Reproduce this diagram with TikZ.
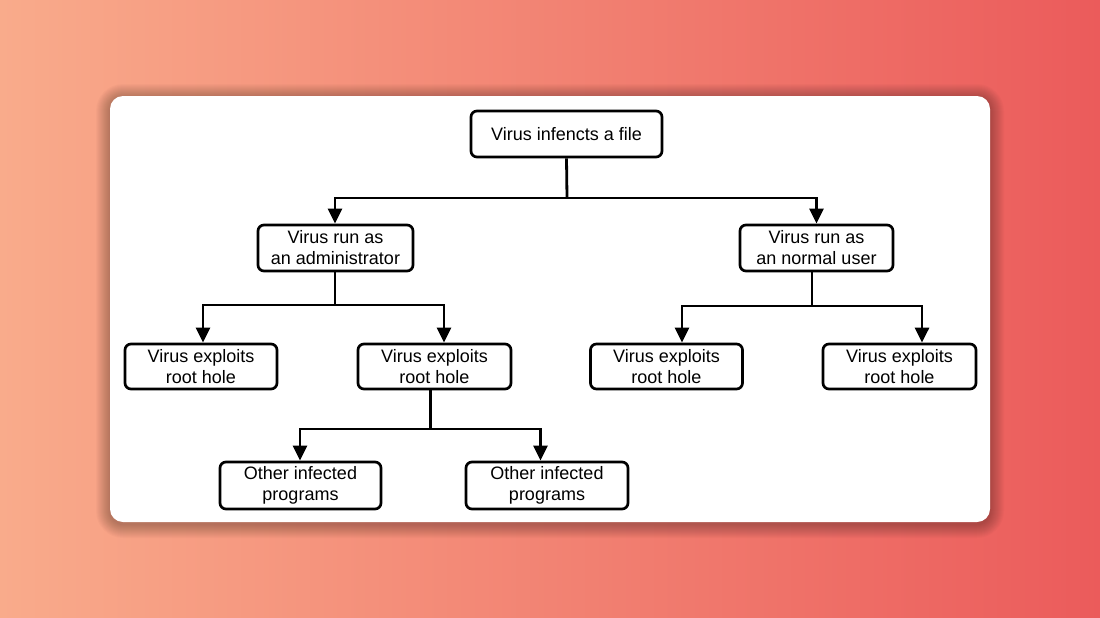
\documentclass[tikz,border=0pt]{standalone}
\usepackage{fontspec}
\setmainfont{Liberation Sans}
\usetikzlibrary{arrows.meta}
\definecolor{bgL}{HTML}{F9AB8B}
\definecolor{bgR}{HTML}{EB5B5B}
\tikzset{
  box/.style={draw=black, line width=2.7pt, rounded corners=6pt, fill=white,
    align=center, inner sep=0pt, minimum height=46pt,
    font=\fontsize{18}{21}\selectfont},
  conn/.style={line width=2.8pt, draw=black},
  arr/.style={conn, -{Triangle[length=15pt,width=14pt]}},
}
\begin{document}
\begin{tikzpicture}[x=1pt,y=-1pt]
\useasboundingbox (0,0) rectangle (1100,618);
\shade[left color=bgL, right color=bgR] (0,0) rectangle (1100,618);
\foreach \i in {1,...,14}{
  \fill[black, opacity=0.018, rounded corners={13pt+\i pt}]
    (110-\i,96-\i+2) rectangle (990+\i,522+\i+2);
}
\fill[white, rounded corners=13pt] (110,96) rectangle (990,522);

\node[box, minimum width=191pt] (top) at (566.5,134) {Virus infencts a file};
\node[box, minimum width=155pt] (adm) at (335.5,248) {Virus run as\\an administrator};
\node[box, minimum width=153pt] (usr) at (816.5,248) {Virus run as\\an normal user};
\node[box, minimum width=152pt, minimum height=45pt] (a1) at (201,366.5) {Virus exploits\\root hole};
\node[box, minimum width=153pt, minimum height=45pt] (a2) at (434.5,366.5) {Virus exploits\\root hole};
\node[box, minimum width=152pt, minimum height=45pt] (n1) at (666.5,366.5) {Virus exploits\\root hole};
\node[box, minimum width=153pt, minimum height=45pt] (n2) at (899.5,366.5) {Virus exploits\\root hole};
\node[box, minimum width=161pt, minimum height=47pt] (o1) at (300.5,485.5) {Other infected\\programs};
\node[box, minimum width=162pt, minimum height=47pt] (o2) at (547,485.5) {Other infected\\programs};

\coordinate (j0) at (567,198);
\draw[conn] (top.south) -- (j0);
\draw[arr] (j0) -| ([xshift=-0.5pt]adm.north);
\draw[arr] (j0) -| (usr.north);

\coordinate (j1) at (335,305);
\draw[conn] ([xshift=-0.5pt]adm.south) -- (j1);
\draw[arr] (j1) -| ([xshift=2pt]a1.north);
\draw[arr] (j1) -| ([xshift=9.5pt]a2.north);

\coordinate (j2) at (812,306);
\draw[conn] ([xshift=-4.5pt]usr.south) -- (j2);
\draw[arr] (j2) -| ([xshift=15.5pt]n1.north);
\draw[arr] (j2) -| ([xshift=22.5pt]n2.north);

\coordinate (j3) at (430.5,429);
\draw[conn] ([xshift=-4pt]a2.south) -- (j3);
\draw[arr] (j3) -| ([xshift=-0.5pt]o1.north);
\draw[arr] (j3) -| ([xshift=-6.5pt]o2.north);
\end{tikzpicture}
\end{document}
